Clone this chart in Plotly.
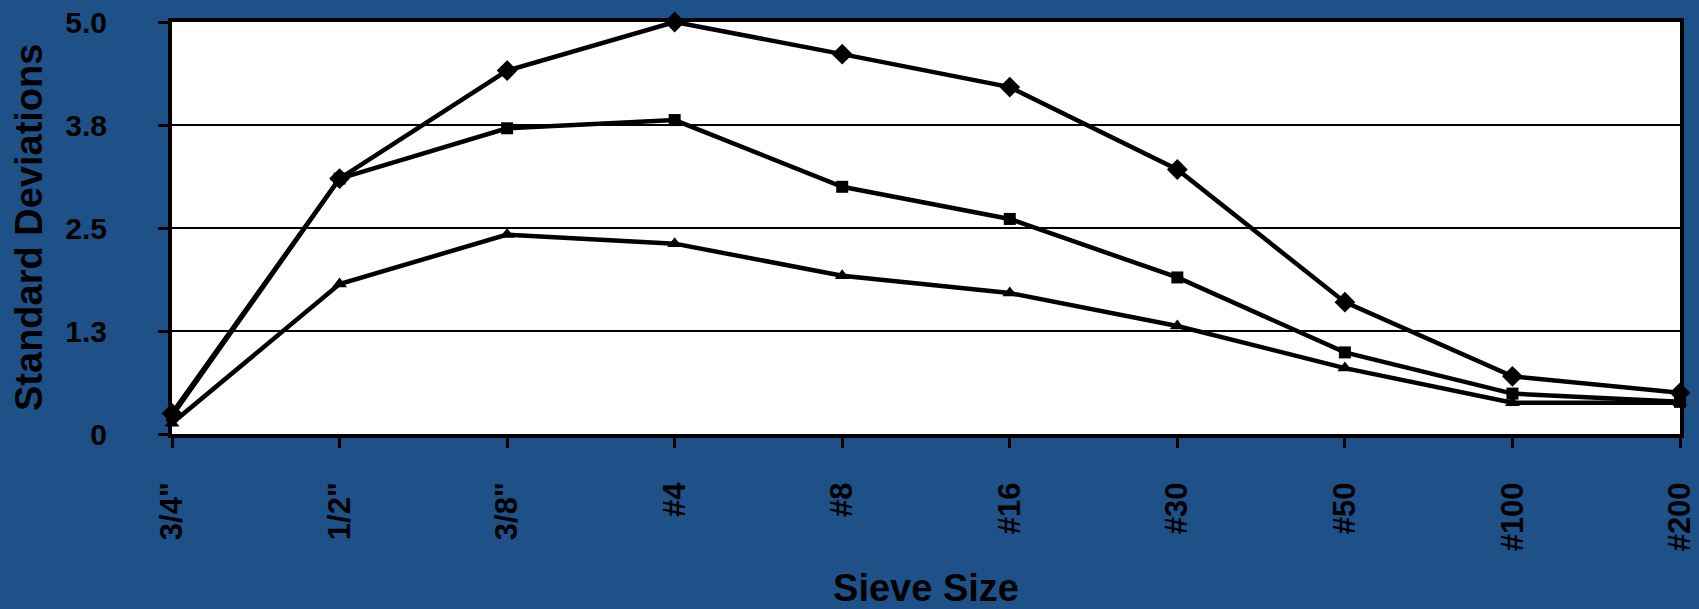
import plotly.graph_objects as go

categories = ['3/4"', '1/2"', '3/8"', '#4', '#8', '#16', '#30', '#50', '#100', '#200']
series_diamond = [0.25, 3.10, 4.41, 5.00, 4.61, 4.21, 3.21, 1.60, 0.70, 0.50]
series_square = [0.22, 3.10, 3.71, 3.81, 3.00, 2.61, 1.90, 0.99, 0.49, 0.39]
series_triangle = [0.13, 1.82, 2.42, 2.31, 1.92, 1.71, 1.31, 0.80, 0.38, 0.38]
y_tickvals = [0, 1.25, 2.5, 3.75, 5.0]
y_ticktext = ["0", "1.3", "2.5", "3.8", "5.0"]

FONT = "Liberation Sans, Arial, Helvetica, sans-serif"
BG = "#1f5189"
W, H = 1699, 609
ML, MR, MT, MB = 172, 19, 22, 175

fig = go.Figure()
for vals, sym, size in [
    (series_triangle, "triangle-up", 13),
    (series_square, "square", 12),
    (series_diamond, "diamond", 16),
]:
    fig.add_trace(go.Scatter(
        x=categories, y=vals, mode="lines+markers",
        line=dict(color="black", width=4.5),
        marker=dict(symbol=sym, size=size, color="black"),
        cliponaxis=False, showlegend=False,
    ))

fig.update_layout(
    width=W, height=H,
    margin=dict(l=ML, r=MR, t=MT, b=MB),
    paper_bgcolor=BG, plot_bgcolor="white",
    font=dict(family=FONT, color="black"),
)
fig.update_xaxes(
    type="category", range=[0, len(categories) - 1], automargin=False,
    showline=True, linecolor="black", linewidth=4, mirror=True,
    showgrid=False, zeroline=False,
    ticks="outside", ticklen=10, tickwidth=3, tickcolor="black",
    tickangle=-90, ticklabelstandoff=22,
    tickfont=dict(family=FONT, size=31, color="black", weight="bold"),
    title=dict(text="Sieve Size", standoff=28,
               font=dict(family=FONT, size=38, color="black", weight="bold")),
)
fig.update_yaxes(
    range=[0, 5], tickvals=y_tickvals, ticktext=y_ticktext, automargin=False,
    showline=True, linecolor="black", linewidth=4, mirror=True,
    showgrid=True, gridcolor="black", gridwidth=2, zeroline=False,
    ticks="outside", ticklen=10, tickwidth=3, tickcolor="black",
    ticklabelstandoff=45,
    tickfont=dict(family=FONT, size=30, color="black", weight="bold"),
)
plot_w = W - ML - MR
fig.add_annotation(
    text="Standard Deviations", xref="paper", yref="paper",
    x=(29 - ML) / plot_w, y=0.5, xanchor="center", yanchor="middle",
    textangle=-90, showarrow=False,
    font=dict(family=FONT, size=38, color="black", weight="bold"),
)

fig.write_html("out.html")
